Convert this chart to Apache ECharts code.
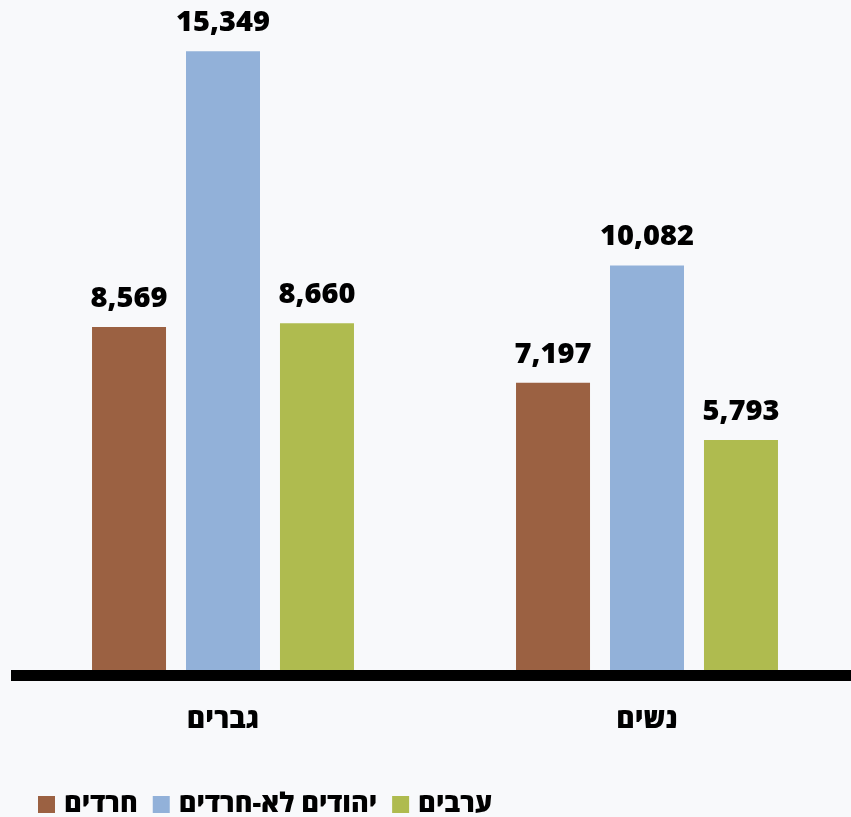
<!DOCTYPE html>
<html>
<head>
<meta charset="utf-8">
<script src="https://cdn.jsdelivr.net/npm/echarts@6/dist/echarts.min.js"></script>
<style>
  html, body { margin: 0; padding: 0; background: #F8F9FB; }
  #chart { width: 851px; height: 817px; }
</style>
</head>
<body>
<div id="chart"></div>
<script>
// קטגוריות וסדרות
var categories = ['גברים', 'נשים'];
var seriesNames = ['חרדים', 'יהודים לא-חרדים', 'ערבים'];
var haredim = [8569, 7197];
var nonHaredim = [15349, 10082];
var arabs = [8660, 5793];
var colors = ['#9B6142', '#92B1D9', '#AFBB4F'];

var font = '"Open Sans", "DejaVu Sans", sans-serif';

function makeSeries(name, data, color) {
  return {
    name: name,
    type: 'bar',
    data: data,
    barWidth: 74,
    barGap: '27%',
    itemStyle: { color: color },
    label: {
      show: true,
      position: 'top',
      distance: 14,
      color: '#000',
      fontFamily: font,
      fontWeight: 800,
      fontSize: 29,
      formatter: function (p) { return p.value.toLocaleString('en-US'); }
    }
  };
}

var chart = echarts.init(document.getElementById('chart'));
chart.setOption({
  backgroundColor: '#F8F9FB',
  animation: false,
  grid: { left: 11, width: 848, top: 24.8, bottom: 141.5, outerBoundsMode: 'none', containLabel: false },
  xAxis: {
    type: 'category',
    data: categories,
    z: 10,
    axisLine: { lineStyle: { color: '#000', width: 11, cap: 'butt' } },
    axisTick: { show: false },
    axisLabel: {
      margin: 31,
      color: '#000',
      fontFamily: font,
      fontWeight: 800,
      fontSize: 28
    }
  },
  yAxis: {
    type: 'value',
    min: 0,
    max: 16000,
    show: false
  },
  legend: {
    left: 38,
    top: 791,
    padding: 0,
    itemWidth: 17,
    itemHeight: 17,
    itemGap: 15,
    icon: 'rect',
    textStyle: {
      color: '#000',
      fontFamily: font,
      fontWeight: 800,
      fontSize: 27,
      padding: [0, 0, 0, 4]
    },
    data: seriesNames
  },
  series: [
    makeSeries(seriesNames[0], haredim, colors[0]),
    makeSeries(seriesNames[1], nonHaredim, colors[1]),
    makeSeries(seriesNames[2], arabs, colors[2])
  ]
});
</script>
</body>
</html>
